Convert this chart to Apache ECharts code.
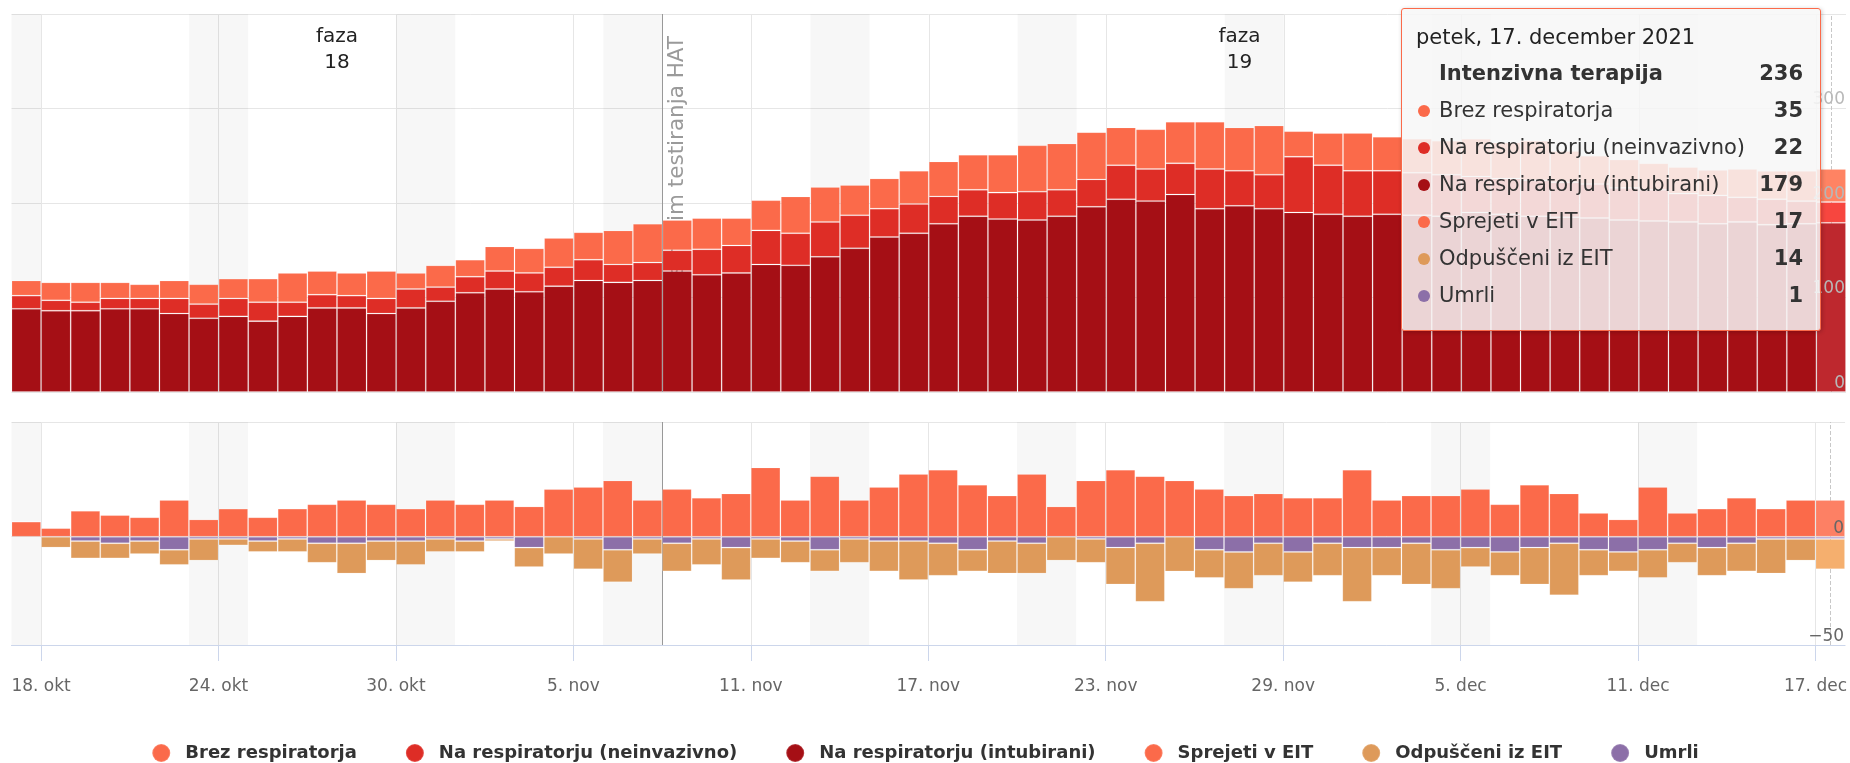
<!DOCTYPE html>
<html>
<head>
<meta charset="utf-8">
<script src="https://cdn.jsdelivr.net/npm/echarts@6/dist/echarts.min.js"></script>
<style>
html,body{margin:0;padding:0;background:#fff;}
#c{width:1850px;height:763px;}
</style>
</head>
<body>
<div id="c"></div>
<script>
// ---------- data ----------
const startDate = [2021, 9, 17];   // 17. okt 2021
const dayCount = 62;
const intubirani = [88,86,86,88,88,83,78,80,75,80, 89,89,83,89,96,105,109,106,112,118, 116,118,128,124,126,135,134,143,152,164, 168,178,186,183,182,186,196,204,202,209, 194,197,194,190,188,186,188,187,186,190, 188,186,185,184,182,181,180,178,180,177, 178,179];
const neinvazivno = [14,11,9,11,11,16,15,19,20,15, 14,13,16,20,15,17,19,20,20,22, 19,19,22,27,29,36,34,37,35,30, 31,29,28,28,30,28,29,36,34,33, 42,37,36,59,52,48,46,45,44,38, 38,38,37,36,34,33,30,30,26,27, 24,22];
const brezRespiratorja = [16,19,21,17,15,19,21,21,25,31, 25,24,29,17,23,18,26,26,31,29, 36,41,32,33,29,32,39,37,32,32, 35,37,37,40,49,49,50,40,42,44, 50,46,52,27,34,40,36,36,36,40, 38,42,33,30,30,28,28,27,30,30, 32,35];
const sprejeti = [7,4,12,10,9,17,8,13,9,13, 15,17,15,13,17,15,17,14,22,23, 26,17,22,18,20,32,17,28,17,23, 29,31,24,19,29,14,26,31,28,26, 22,19,20,18,18,31,17,19,19,22, 15,24,20,11,8,23,11,13,18,13, 17,17];
const odpusceni = [0,5,8,7,6,7,10,3,5,6, 9,14,9,11,6,5,1,9,8,14, 15,7,13,12,15,9,10,10,11,14, 18,15,10,15,14,11,11,17,27,16, 13,17,15,14,15,25,13,19,18,9, 11,17,24,12,9,13,9,13,13,16, 10,14];
const umrli = [0,0,2,3,2,6,1,1,2,1, 3,3,2,2,1,2,1,5,0,1, 6,1,3,1,5,1,2,6,1,2, 2,3,6,2,3,0,1,5,3,0, 6,7,3,7,3,5,5,3,6,5, 7,5,3,6,7,6,3,5,3,1, 1,1];
const tickLabels = ['18. okt','24. okt','30. okt','5. nov','11. nov','17. nov','23. nov','29. nov','5. dec','11. dec','17. dec'];
const topLabelValues = [0, 100, 200, 300];
const bottomLabelValues = [-50, 0];
const phaseNames = ['faza\n18', 'faza\n19'];
const phaseDates = [['2021-10-17', '2021-11-08'], ['2021-11-08', '2021-12-17']];
const eventDate = '2021-11-08';
const eventLabel = 'Začetek s hitrim testiranja HAT';
const hoverDate = '2021-12-17';

const names = {
  brez: 'Brez respiratorja', neinv: 'Na respiratorju (neinvazivno)', intub: 'Na respiratorju (intubirani)',
  spr: 'Sprejeti v EIT', odp: 'Odpuščeni iz EIT', umr: 'Umrli'
};
const colors = { brez: '#fb6a4a', neinv: '#de2d26', intub: '#a50f15', spr: '#fb6a4a', odp: '#de9a5a', umr: '#8c6fa8' };
const hoverColors = { brez: '#ff8363', neinv: '#f7463f', intub: '#be282e', spr: '#fd8064', odp: '#f5af6e', umr: '#a588c1' };

// ---------- helpers ----------
const DAY = 86400000;
const t0 = Date.UTC(startDate[0], startDate[1], startDate[2]);
function dateOf(i) { return new Date(t0 + i * DAY); }
function idxOf(s) { const p = s.split('-').map(Number); return Math.round((Date.UTC(p[0], p[1] - 1, p[2]) - t0) / DAY); }
const monAbbr = ['jan','feb','mar','apr','maj','jun','jul','avg','sep','okt','nov','dec'];
const monFull = ['januar','februar','marec','april','maj','junij','julij','avgust','september','oktober','november','december'];
const dayNames = ['nedelja','ponedeljek','torek','sreda','četrtek','petek','sobota'];
function shortLabel(i) { const d = dateOf(i); return d.getUTCDate() + '. ' + monAbbr[d.getUTCMonth()]; }

const tickValues = [];
for (let i = 0; i <= dayCount; i++) if (tickLabels.indexOf(shortLabel(i)) >= 0) tickValues.push(i);

// weekend bands
const weekendAreas = [];
let runStart = -1;
for (let i = 0; i <= dayCount; i++) {
  const wd = i < dayCount ? dateOf(i).getUTCDay() : -1;
  const isWe = wd === 0 || wd === 6;
  if (isWe && runStart < 0) runStart = i;
  if (!isWe && runStart >= 0) { weekendAreas.push([{ xAxis: runStart }, { xAxis: i }]); runStart = -1; }
}
const phaseAreas = phaseNames.map((n, k) => [{ name: n, xAxis: idxOf(phaseDates[k][0]) }, { xAxis: idxOf(phaseDates[k][1]) }]);
const eventIdx = idxOf(eventDate);
const hoverIdx = idxOf(hoverDate);

// value stored as [y, x] so the stack is computed on y (first dimension)
function mk(values, key, sign) {
  return values.map((v, i) => {
    const item = { value: [sign * v, i + 0.5] };
    if (i === hoverIdx) item.itemStyle = { color: hoverColors[key] };
    return item;
  });
}
const barBorder = { borderColor: 'rgba(255,255,255,0.15)', borderWidth: 1 };
function barSeries(key, values, grid, stack, sign) {
  return {
    name: names[key], type: 'bar', stack: stack,
    xAxisIndex: grid, yAxisIndex: grid * 2,
    encode: { x: 1, y: 0 },
    barWidth: '100%', z: 3,
    itemStyle: Object.assign({ color: colors[key] }, barBorder),
    emphasis: { disabled: true },
    data: mk(values, key, sign)
  };
}

function tipHtml(i) {
  const d = dateOf(i);
  const header = dayNames[d.getUTCDay()] + ', ' + d.getUTCDate() + '. ' + monFull[d.getUTCMonth()] + ' ' + d.getUTCFullYear();
  const total = intubirani[i] + neinvazivno[i] + brezRespiratorja[i];
  const rows = [
    ['brez', brezRespiratorja[i]], ['neinv', neinvazivno[i]], ['intub', intubirani[i]],
    ['spr', sprejeti[i]], ['odp', odpusceni[i]], ['umr', umrli[i]]
  ];
  const td = 'padding:0;border:0;';
  let h = '<div style="box-sizing:border-box;width:418px;height:321px;padding:12px 17px 0 14px;font-family:\'DejaVu Sans\';font-size:21px;color:#333;line-height:normal;white-space:nowrap;">';
  h += '<div style="height:33px;line-height:33px;color:#222;">' + header + '</div>';
  h += '<table style="border-collapse:collapse;border-spacing:0;width:100%;font-size:21px;color:#333;">';
  h += '<tr style="height:37px;"><td style="' + td + 'width:23px;"></td><td style="' + td + 'font-weight:bold;">Intenzivna terapija</td><td style="' + td + 'text-align:right;font-weight:bold;">' + total + '</td></tr>';
  rows.forEach(r => {
    h += '<tr style="height:37px;"><td style="' + td + '"><span style="display:inline-block;width:12px;height:12px;border-radius:6px;background:' + colors[r[0]] + ';margin-left:2px;vertical-align:middle;"></span></td>' +
      '<td style="' + td + '">' + names[r[0]] + '</td><td style="' + td + 'text-align:right;font-weight:bold;">' + r[1] + '</td></tr>';
  });
  h += '</table></div>';
  return h;
}

const chart = echarts.init(document.getElementById('c'), null, { renderer: 'canvas' });
const gridLine = { lineStyle: { color: '#e6e6e6', width: 1 } };

const option = {
  animation: false,
  textStyle: { fontFamily: 'DejaVu Sans' },
  grid: [
    { left: 11.5, right: 4, top: 14, height: 378 },
    { left: 11.5, right: 4, top: 422, height: 223 }
  ],
  axisPointer: { link: [{ xAxisIndex: 'all' }] },
  xAxis: [
    { type: 'value', gridIndex: 0, min: 0, max: dayCount,
      axisLine: { show: false }, axisTick: { show: false, customValues: tickValues },
      axisLabel: { show: false }, splitLine: Object.assign({ show: true }, gridLine),
      axisPointer: { z: 2, lineStyle: { color: '#c8c8c8', width: 1 }, label: { show: false } } },
    { type: 'value', gridIndex: 1, min: 0, max: dayCount,
      axisLine: { show: true, onZero: false, lineStyle: { color: '#ccd6eb', width: 1 } },
      axisTick: { show: true, length: 16, customValues: tickValues, lineStyle: { color: '#ccd6eb' } },
      axisLabel: { customValues: tickValues, formatter: v => shortLabel(Math.round(v)), color: '#666', fontSize: 17, margin: 33 },
      splitLine: Object.assign({ show: true }, gridLine),
      axisPointer: { z: 2, lineStyle: { color: '#c8c8c8', width: 1 }, label: { show: false } } }
  ],
  yAxis: [
    { type: 'value', gridIndex: 0, min: 0, max: 400, interval: 100, position: 'right',
      axisLine: { show: false }, axisTick: { show: false }, axisLabel: { show: false },
      splitLine: Object.assign({ show: true }, gridLine) },
    { type: 'value', gridIndex: 0, min: 0, max: 400, interval: 100, position: 'right', z: 10,
      axisLine: { show: false }, axisTick: { show: false }, splitLine: { show: false },
      axisLabel: { inside: true, customValues: topLabelValues, color: '#b8b8b8', fontSize: 17, margin: 1, verticalAlign: 'bottom' } },
    { type: 'value', gridIndex: 1, min: -50, max: 53, position: 'right',
      axisLine: { show: false }, axisTick: { show: false, customValues: [-50, 0, 53] }, axisLabel: { show: false },
      splitLine: Object.assign({ show: true }, gridLine) },
    { type: 'value', gridIndex: 1, min: -50, max: 53, position: 'right', z: 10,
      axisLine: { show: false }, axisTick: { show: false }, splitLine: { show: false },
      axisLabel: { inside: true, customValues: bottomLabelValues, color: '#666', fontSize: 17, margin: 1, verticalAlign: 'bottom',
        formatter: v => (v < 0 ? '\u2212' + Math.abs(v) : String(v)) } }
  ],
  legend: {
    data: [names.brez, names.neinv, names.intub, names.spr, names.odp, names.umr],
    top: 738, left: 'center', icon: 'circle', itemWidth: 18, itemHeight: 18, itemGap: 48,
    selectedMode: false,
    textStyle: { fontSize: 18, fontWeight: 'bold', color: '#333', padding: [0, 0, 0, 10] }
  },
  tooltip: {
    trigger: 'axis', triggerOn: 'none', alwaysShowContent: true, transitionDuration: 0,
    position: [1401, 8], padding: 0,
    backgroundColor: 'rgba(247,247,247,0.85)', borderColor: '#fb6a4a', borderWidth: 1.5,
    extraCssText: 'border-radius:3px;box-shadow:1px 1px 4px rgba(0,0,0,0.22);',
    axisPointer: { type: 'line', z: 2, lineStyle: { color: '#c8c8c8', width: 1 } },
    formatter: function (params) {
      let i = hoverIdx;
      const arr = Array.isArray(params) ? params : [params];
      const b = arr.find(p => p.seriesType === 'bar');
      if (b) i = b.dataIndex;
      return tipHtml(i);
    }
  },
  series: [
    { type: 'line', xAxisIndex: 0, yAxisIndex: 0, data: [], silent: true, z: 1,
      markArea: { silent: true, z: 1, label: { show: false }, itemStyle: { color: 'rgba(0,0,0,0.03)' }, data: weekendAreas } },
    { type: 'line', xAxisIndex: 1, yAxisIndex: 2, data: [], silent: true, z: 1,
      markArea: { silent: true, z: 1, label: { show: false }, itemStyle: { color: 'rgba(0,0,0,0.03)' }, data: weekendAreas },
      markLine: { silent: true, z: 1, symbol: ['none', 'none'], lineStyle: { color: '#999', width: 1, type: 'solid' },
        label: { show: false }, data: [{ xAxis: eventIdx }] } },
    { type: 'line', xAxisIndex: 0, yAxisIndex: 0, data: [], silent: true, z: 1,
      markArea: { silent: true, z: 1, itemStyle: { color: 'rgba(0,0,0,0)' },
        label: { show: true, position: 'insideTop', distance: 10, color: '#222', fontSize: 20, lineHeight: 26, align: 'center' },
        data: phaseAreas },
      markLine: { silent: true, z: 1, symbol: ['none', 'none'], lineStyle: { color: '#999', width: 1, type: 'solid' },
        label: { show: true, position: 'insideEndBottom', formatter: eventLabel, color: '#9a9a9a', fontSize: 21.5, distance: [22, 4] },
        data: [{ xAxis: eventIdx }] } },
    barSeries('intub', intubirani, 0, 'it', 1),
    barSeries('neinv', neinvazivno, 0, 'it', 1),
    barSeries('brez', brezRespiratorja, 0, 'it', 1),
    barSeries('spr', sprejeti, 1, 'flow', 1),
    barSeries('umr', umrli, 1, 'flow', -1),
    barSeries('odp', odpusceni, 1, 'flow', -1)
  ]
};
chart.setOption(option);
chart.dispatchAction({ type: 'showTip', seriesIndex: 3, dataIndex: hoverIdx });
</script>
</body>
</html>
